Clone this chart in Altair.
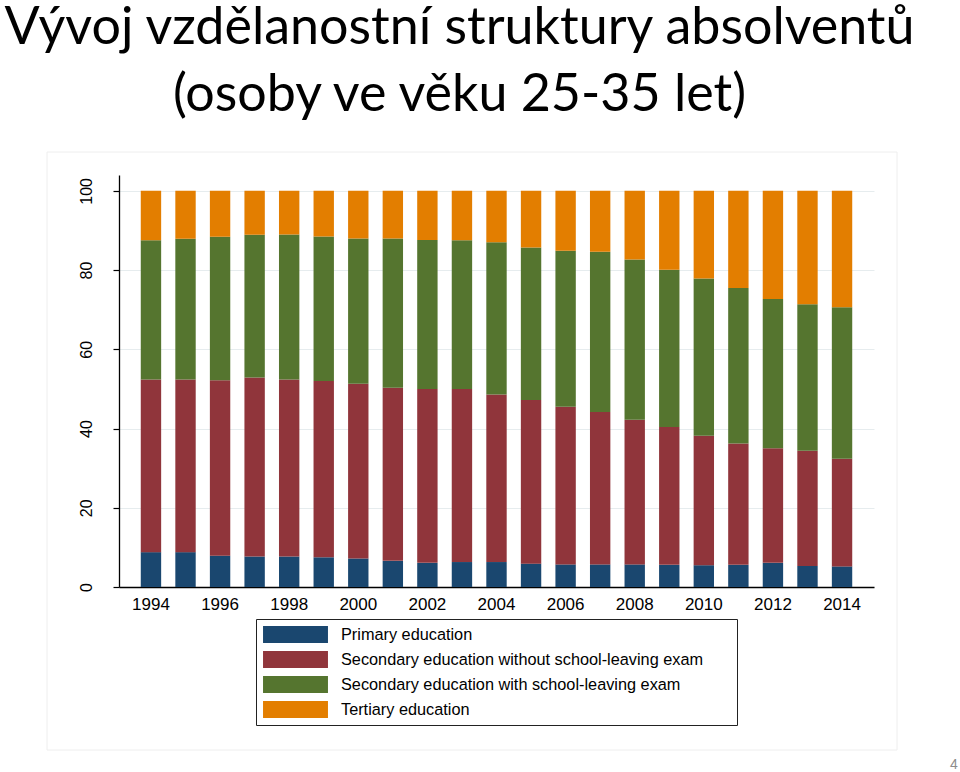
import altair as alt
import pandas as pd

years = list(range(1994, 2015))
categories = [
    "Primary education",
    "Secondary education without school-leaving exam",
    "Secondary education with school-leaving exam",
    "Tertiary education",
]
primary = [8.8, 8.8, 7.9, 7.7, 7.7, 7.5, 7.2, 6.6, 6.1, 6.3, 6.3, 5.9, 5.7, 5.7, 5.7, 5.6, 5.5, 5.6, 6.1, 5.3, 5.2]
sec_without = [43.6, 43.6, 44.3, 45.2, 44.7, 44.5, 44.1, 43.7, 43.9, 43.7, 42.3, 41.3, 39.8, 38.5, 36.5, 34.8, 32.7, 30.6, 28.9, 29.1, 27.2]
sec_with = [35.1, 35.5, 36.2, 36.0, 36.6, 36.5, 36.7, 37.7, 37.6, 37.5, 38.4, 38.5, 39.4, 40.4, 40.5, 39.7, 39.7, 39.3, 37.7, 37.0, 38.2]
tertiary = [12.5, 12.1, 11.6, 11.1, 11.0, 11.5, 12.0, 12.0, 12.4, 12.5, 13.0, 14.3, 15.1, 15.4, 17.3, 19.9, 22.1, 24.5, 27.3, 28.6, 29.4]
colors = ["#1a476f", "#90353b", "#55752f", "#e37e00"]
y_ticks = [0, 20, 40, 60, 80, 100]
x_labels = years[::2]
title_lines = ["Vývoj vzdělanostní struktury absolventů", "(osoby ve věku 25-35 let)"]
page_number = ["4"]

rows = []
for ci, (cat, vals) in enumerate(zip(categories, [primary, sec_without, sec_with, tertiary])):
    for yr, v in zip(years, vals):
        rows.append({"year": yr, "category": cat, "value": v, "order": ci})
df = pd.DataFrame(rows)

swatch = "M-3.82,-1L3.82,-1L3.82,1L-3.82,1Z"

bars = alt.Chart(df).mark_bar().encode(
    x=alt.X(
        "year:O",
        scale=alt.Scale(paddingInner=0.41, paddingOuter=0.63),
        axis=alt.Axis(
            values=x_labels, labelAngle=0, ticks=False, tickSize=0,
            domainColor="#000000", domainWidth=1.3,
            labelFont="Liberation Sans", labelFontSize=17, labelColor="#000000",
            labelPadding=9, title=None, grid=False,
        ),
    ),
    y=alt.Y(
        "value:Q",
        stack="zero",
        scale=alt.Scale(domain=[0, 104], nice=False, zero=True),
        axis=alt.Axis(
            values=y_ticks, labelAngle=270, labelAlign="center", labelBaseline="alphabetic",
            tickSize=6, tickColor="#000000", tickWidth=1.2,
            domainColor="#000000", domainWidth=1.3,
            labelFont="Liberation Sans", labelFontSize=16, labelColor="#000000",
            labelPadding=22, title=None,
            grid=True, gridColor="#e6ecee", gridWidth=1,
        ),
    ),
    color=alt.Color(
        "category:N",
        scale=alt.Scale(domain=categories, range=colors),
        legend=alt.Legend(
            orient="none", legendX=137, legendY=444,
            title=" ", titleOrient="right", titlePadding=27, titleFontSize=6,
            symbolType=swatch, symbolSize=289, symbolStrokeWidth=0,
            symbolOffset=24, labelOffset=37,
            labelFont="Liberation Sans", labelFontSize=16.3, labelColor="#000000",
            labelLimit=800, rowPadding=8, padding=7,
            strokeColor="#222222", fillColor="#ffffff",
        ),
    ),
    order=alt.Order("order:Q", sort="ascending"),
)

frame = alt.Chart(pd.DataFrame({"a": [0]})).mark_rect(
    fillOpacity=0, stroke="#eeeeee", strokeWidth=1
).encode(
    x=alt.value(-72), x2=alt.value(778), y=alt.value(-23), y2=alt.value(575)
)

pagenum = alt.Chart(pd.DataFrame({"t": page_number})).mark_text(
    font="Liberation Sans", fontSize=14, color="#8c8c8c", align="center", baseline="alphabetic"
).encode(
    text="t:N", x=alt.value(835), y=alt.value(594)
)

chart = alt.layer(frame, bars, pagenum).properties(
    width=755,
    height=412,
    autosize=alt.AutoSizeParams(type="none"),
    padding={"left": 119, "top": 175, "right": 86, "bottom": 185},
    background="#ffffff",
    title=alt.TitleParams(
        text=title_lines, font="Lato", fontSize=52, fontWeight="normal", color="#000000",
        anchor="middle", frame="group", dx=-37, offset=-22, lineHeight=67, baseline="bottom",
    ),
).configure_view(stroke=None)

chart.save("out.html", embed_options={"renderer": "svg", "actions": False})
